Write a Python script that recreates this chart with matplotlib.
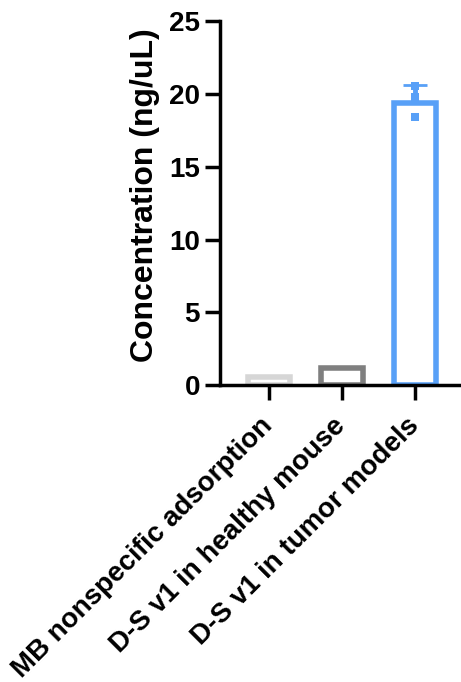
import numpy as np
import matplotlib
matplotlib.use('Agg')
import matplotlib.pyplot as plt

plt.rcParams['font.family'] = ['Liberation Sans', 'DejaVu Sans']
plt.rcParams['font.weight'] = 'bold'

groups = ['MB nonspecific adsorption', 'D-S v1 in healthy mouse', 'D-S v1 in tumor models']
bar_values = [0.57, 1.15, 19.4]
upper_err = [0, 0, 1.2]
tumor_points = [20.58, 19.8, 18.45]      # replicate measurements, tumor group
colors = ['#d6d6d6', '#7f7f7f', '#58a0f7']

fig = plt.figure(figsize=(4.61, 6.82), dpi=100)
ax = fig.add_axes([0.4772, 0.4355, 0.5228, 0.533])

x = np.arange(len(groups))
lw = 4.0
ax.bar(x, bar_values, width=0.585, facecolor='white', edgecolor=colors,
       linewidth=lw, zorder=2)

# only the upper half of the error bar is shown
ax.errorbar(x[2], bar_values[2], yerr=[[0], [upper_err[2]]], fmt='none',
            ecolor=colors[2], elinewidth=3.5, capsize=8.5, capthick=2.0, zorder=3)
ax.plot([x[2]] * len(tumor_points), tumor_points, 's', color=colors[2],
        markersize=6, markeredgewidth=0, zorder=4)

ax.set_ylim(0, 25)
ax.set_xlim(-0.671, 2.63)
ax.set_yticks([0, 5, 10, 15, 20, 25])
ax.set_xticks(x)
ax.set_xticklabels(groups, rotation=45, ha='right', va='center',
                   rotation_mode='anchor', fontsize=20)
ax.set_ylabel('Concentration (ng/uL)', fontsize=23, fontweight='bold')
ax.yaxis.set_label_coords(-0.247, 0.523)

for s in ['top', 'right']:
    ax.spines[s].set_visible(False)
for s in ['left', 'bottom']:
    ax.spines[s].set_linewidth(2.5)
    ax.spines[s].set_capstyle('projecting')
ax.tick_params(axis='both', width=2.5, colors='black')
ax.tick_params(axis='y', length=10.8, pad=3.6, labelsize=20)
ax.tick_params(axis='x', length=10.8, pad=16)

fig.savefig('out.png', dpi=100)
